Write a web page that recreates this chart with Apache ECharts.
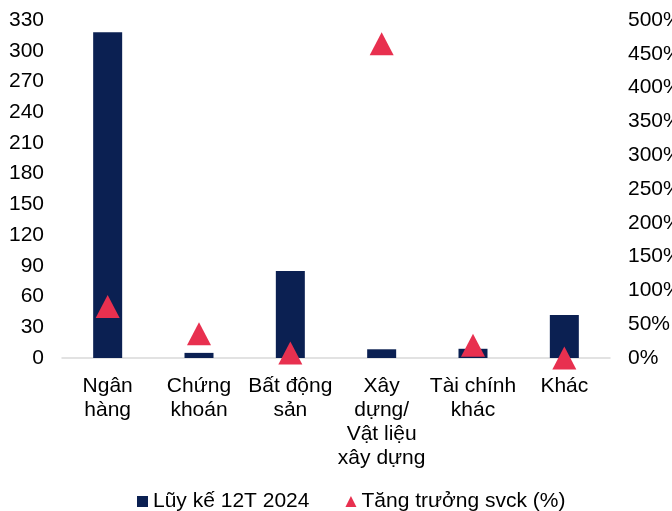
<html>
<head>
  <meta charset="utf-8" />
  <script src="https://cdn.jsdelivr.net/npm/echarts@6.0.0/dist/echarts.min.js"></script>
  <style>
    html, body { margin: 0; padding: 0; background: #fff; }
    #chart { width: 672px; height: 511px; }
  </style>
</head>
<body>
  <div id="chart"></div>
  <script>
    // data
    var categories = ['Ngân\nhàng', 'Chứng\nkhoán', 'Bất động\nsản', 'Xây\ndựng/\nVật liệu\nxây dựng', 'Tài chính\nkhác', 'Khác'];
    var luyKe = [318, 5, 85, 8.5, 9, 42];
    var tangTruong = [76, 36, 7.5, 465, 19, 0];
    var leftTicks = { min: 0, max: 330, step: 30 };
    var rightTicks = { min: 0, max: 500, step: 50 };

    var font = 'Liberation Sans, Arial, sans-serif';
    var chart = echarts.init(document.getElementById('chart'));

    chart.setOption({
      animation: false,
      textStyle: { fontFamily: font },
      grid: { left: 62, right: 62, top: 20, bottom: 153, containLabel: false, outerBoundsMode: 'none' },
      legend: {
        top: 486,
        left: 132,
        itemGap: 36,
        itemWidth: 11,
        itemHeight: 11,
        textStyle: { fontSize: 21, color: '#000', fontFamily: font },
        data: [
          { name: 'Lũy kế 12T 2024', icon: 'rect' },
          { name: 'Tăng trưởng svck (%)', icon: 'triangle', itemStyle: { color: '#e8304f' } }
        ]
      },
      xAxis: {
        type: 'category',
        data: categories,
        axisLine: { lineStyle: { color: '#d9d9d9', width: 1.5 } },
        axisTick: { show: false },
        axisLabel: {
          color: '#000', fontSize: 21, lineHeight: 24, margin: 16, interval: 0, fontFamily: font
        }
      },
      yAxis: [
        {
          type: 'value',
          min: leftTicks.min, max: leftTicks.max, interval: leftTicks.step,
          splitLine: { show: false },
          axisLine: { show: false },
          axisTick: { show: false },
          axisLabel: { color: '#000', fontSize: 21, margin: 18, fontFamily: font }
        },
        {
          type: 'value',
          min: rightTicks.min, max: rightTicks.max, interval: rightTicks.step,
          splitLine: { show: false },
          axisLine: { show: false },
          axisTick: { show: false },
          axisLabel: { color: '#000', fontSize: 21, margin: 18, formatter: '{value}%', fontFamily: font }
        }
      ],
      series: [
        {
          name: 'Lũy kế 12T 2024',
          type: 'bar',
          data: luyKe,
          barWidth: 29,
          itemStyle: { color: '#0b2052' }
        },
        {
          name: 'Tăng trưởng svck (%)',
          type: 'scatter',
          yAxisIndex: 1,
          data: tangTruong,
          symbol: 'triangle',
          symbolSize: [24, 23],
          itemStyle: { color: '#e8304f', opacity: 1 }
        }
      ]
    });
  </script>
</body>
</html>
